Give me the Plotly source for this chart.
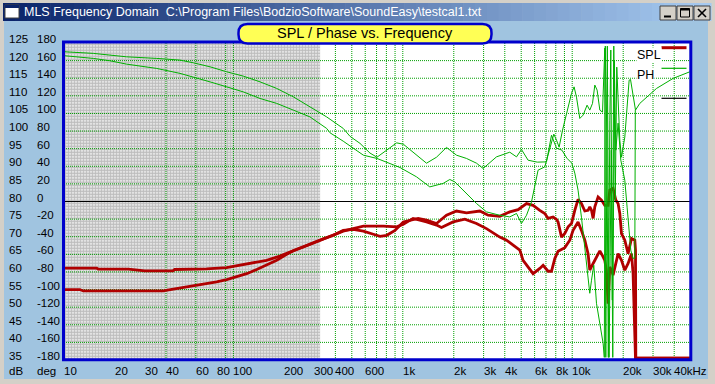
import math
import plotly.graph_objects as go

# ---------------- data ----------------
spl1_f = [10, 15.6, 15.9, 24, 30, 44, 45, 69.5, 91, 104.5, 131, 157, 188, 216, 259, 296, 339, 389, 445, 510,
          585, 670, 734, 804, 899, 1007, 1150, 1231, 1380, 1581, 1811, 2075, 2377, 2848, 3188, 3737, 4281, 4793,
          5373, 5877, 6437, 6890, 7206, 7713, 8079, 8256, 8648, 9043, 9459, 9904, 10360, 10830, 11340, 11870,
          12410, 12700, 13000, 13290, 13600, 14220, 14890, 15570, 16290, 16670, 17430, 18090, 18660, 19100,
          19540, 20440, 21380, 22390, 23420, 23640, 23740, 50300]
spl1_db = [61.1, 61.1, 60.8, 60.8, 60.3, 60.3, 60.7, 60.85, 61.25, 61.8, 62.75, 63.3, 64.5, 65.7, 67.3, 68.4,
           69.4, 70.4, 71.8, 72.1, 71.6, 70.7, 70.1, 70.4, 71.8, 74.2, 74.9, 75.2, 74.7, 73.75, 76.1, 77.3, 76.8,
           77.3, 76.1, 75.8, 77.05, 77.7, 79.4, 78.9, 77.5, 76.6, 75.2, 75.6, 74.9, 74.2, 69.9, 70.9, 72.8, 73.75,
           77.5, 80.6, 79.4, 77.3, 77.5, 78.5, 77.5, 75.2, 78.5, 81.3, 80.4, 78.9, 78.9, 83.2, 83.7, 80.4, 79.4,
           76.6, 70.9, 69.0, 65.2, 69.5, 69.0, 66.2, 35.5, 35.5]

spl2_f = [10, 12.4, 13, 38.5, 44.2, 50.6, 58, 66.4, 79.6, 91.3, 104.5, 119.8, 137.3, 157.3, 180.2, 206.4, 225.7,
          258.6, 296.3, 339.4, 389, 445, 510, 585, 767, 920, 1007, 1150, 1380, 1581, 1692, 1811, 1981, 2323,
          2723, 3119, 3737, 4094, 4478, 4905, 5129, 5373, 5877, 6437, 6733, 7206, 7547, 7894, 8256, 9043, 9679,
          10120, 10830, 11340, 11870, 12410, 12700, 13290, 13910, 14560, 15220, 15570, 15920, 16290, 16670,
          17060, 17430, 17840, 18660, 19540, 20440, 21380, 22390, 22880, 23100, 23420, 23640, 50300]
spl2_db = [55.0, 55.0, 54.6, 54.6, 55.1, 55.6, 55.9, 56.4, 57.2, 57.8, 58.6, 59.5, 60.7, 61.9, 63.3, 65.0, 66.0,
           67.1, 68.2, 69.2, 70.4, 71.6, 72.3, 73.0, 73.0, 72.8, 73.55, 75.2, 74.2, 73.3, 72.6, 73.3, 74.2, 75.0,
           73.75, 72.3, 69.9, 69.0, 67.6, 66.2, 63.3, 61.9, 59.5, 61.0, 61.9, 60.2, 60.2, 63.8, 65.9, 66.9, 69.0,
           71.8, 74.2, 71.8, 69.0, 65.2, 60.5, 62.4, 64.3, 66.0, 64.3, 63.3, 60.5, 51.0, 61.4, 60.5, 59.1, 61.4,
           65.2, 63.3, 60.5, 62.4, 65.2, 59.5, 52.0, 41.5, 35.5, 35.5]

ph1_f = [10, 10.14, 14.9, 18.7, 23.4, 35.3, 48.4, 58, 72.7, 91.3, 114.3, 143.6, 180.2, 225.7, 283, 355, 445,
         488, 559, 640, 704, 803, 920, 1007, 1150, 1380, 1581, 1811, 2075, 2377, 2723, 2979, 3573, 4281, 4690,
         5019, 5490, 6220, 7051, 7547, 8079, 8700, 9300, 9950, 10360, 10830, 11340, 11870, 12410, 12700, 13000,
         13410, 13910, 14560, 15220, 15470, 15680, 16000, 16340, 16670, 16900, 17250, 17600, 17960, 18330,
         19100, 19540, 20440, 21090, 21680, 22090, 22880, 23640, 25060, 31450, 39410, 49460]
ph1_deg = [173.9, 170, 168.2, 166.6, 164.3, 162.5, 160.6, 157.5, 153, 147.3, 142.4, 135.9, 128.4, 118.9, 107.5,
           96.1, 83.0, 74, 66, 55, 50.3, 58.3, 66.6, 65.1, 56.0, 43.5, 50.3, 61.4, 52.6, 48.9, 43.5, 37.5, 50.7,
           56.0, 50.7, 59.1, 46.9, 44.7, 45.0, 75.3, 60.6, 58.3, 49.2, 43.5, 32.2, 12.8, -17.8, -51.9, -81.5,
           -104.2, -89.4, -72.4, -115.6, -138.3, -161, -177, 176.5, 81, -177, 92.4, 172, -112, 176.5, 1.5,
           152.6, 69.7, 50.3, 73.1, 107.2, 137.8, 138.6, 118.5, 103.8, 111.4, 128.4, 139.8, 147.3]

ph2_f = [10, 10.14, 14.9, 18.7, 23.4, 35.3, 48.4, 58, 72.7, 91.3, 114.3, 143.6, 180.2, 225.7, 283, 355, 372,
         445, 585, 704, 875, 963, 1205, 1443, 1729, 1894, 2028, 2377, 2723, 3119, 3737, 4281, 4690, 5019, 5373,
         5750, 6290, 6890, 7374, 7787, 8079, 8370, 8767, 9254, 9904, 10260, 10600, 11090, 11600, 12240, 12700,
         13180, 13600, 14030, 14560, 15100, 15570, 15790, 16120, 16510, 17010, 17360, 17720, 18090, 18660,
         19360, 20440, 21090, 21680, 22180, 22790, 23420, 23580]
ph2_deg = [166.2, 165.5, 162.5, 159.8, 156, 151.1, 145.5, 141.6, 135.9, 130.2, 124.5, 117, 111.4, 103.8, 96.1,
           83, 78, 68.5, 52.6, 48.9, 41.3, 38.6, 28, 16.6, 20.5, 25, 22.3, 9.1, -2.3, -11.8, -15.6, -17.5, -13.6,
           -25, -15.6, -0.5, 35.6, 39.3, 58.3, 76.5, 69.7, 61.7, 81, 100, 122.7, 130.2, 118.5, 94.3, 98.1, 109.4,
           103.8, 111.4, 132.2, 126.5, 103.8, 101.5, 174.2, -177, 176.5, -177, 58.3, -177, 160.6, 58.3, 89, 47,
           24.2, -6.5, -36, -55.3, -64.4, -64.4, 103.8]

x_tick_freqs = [10, 20, 30, 40, 60, 80, 100, 200, 300, 400, 600, 1000, 2000, 3000, 4000, 6000, 8000, 10000,
                20000, 30000, 40000]
x_tick_text = ["10", "20", "30", "40", "60", "80", "100", "200", "300", "400", "600", "1k", "2k", "3k", "4k",
               "6k", "8k", "10k", "20k", "30k", "40kHz"]
db_ticks = [125, 120, 115, 110, 105, 100, 95, 90, 85, 80, 75, 70, 65, 60, 55, 50, 45, 40, 35]
deg_ticks = [180, 160, 140, 120, 100, 80, 60, 40, 20, 0, -20, -40, -60, -80, -100, -120, -140, -160, -180]

title_text = "MLS Frequency Domain  C:\\Program Files\\BodzioSoftware\\SoundEasy\\testcal1.txt"
chart_title = "SPL / Phase vs. Frequency"

# ---------------- geometry / style ----------------
W, H = 715, 384
ML, MR, MT, MB = 64, 24, 43, 24
PW, PHt = W - ML - MR, H - MT - MB
XMAX_LOG = 1 + PW / 169.4

BODY = "#a0c4e0"
FRAME = "#d4d0c8"
GRID = "#00a000"
PHASE = "#00b000"
SPLC = "#b00000"
BORDER = "#0000cc"
FONT = "Liberation Sans, Arial, sans-serif"


def pxx(x):
    return (x - ML) / PW


def pxy(y):
    return (H - MB - y) / PHt


fig = go.Figure()

# grey textured low-frequency region
fig.add_trace(go.Scatter(x=[10, 325, 325, 10, 10], y=[35, 35, 125, 125, 35], mode="lines",
                         fill="toself", line=dict(width=0), fillcolor="rgba(0,0,0,0)",
                         fillpattern=dict(shape=".", size=3, solidity=0.78, fgcolor="#7c7c7c",
                                          bgcolor="#ffffff"),
                         hoverinfo="skip", showlegend=False))

# grid lines
hx, hy = [], []
for v in range(40, 125, 5):
    hx += [10, 10 ** XMAX_LOG, None]
    hy += [v, v, None]
fig.add_trace(go.Scatter(x=hx, y=hy, mode="lines", line=dict(color=GRID, width=1, dash="1px,1px"),
                         hoverinfo="skip", showlegend=False))
hidden = {20, 30, 50, 70, 80, 200, 300}
vx, vy = [], []
for dec in [10, 100, 1000, 10000]:
    for m in range(1, 10):
        f = dec * m
        if f > 40000 or f in hidden or f == 10:
            continue
        vx += [f, f, None]
        vy += [35, 125, None]
fig.add_trace(go.Scatter(x=vx, y=vy, mode="lines", line=dict(color=GRID, width=1, dash="1px,1px"),
                         hoverinfo="skip", showlegend=False))

# zero-degree reference line
fig.add_trace(go.Scatter(x=[10, 10 ** XMAX_LOG], y=[0, 0], yaxis="y2", mode="lines",
                         line=dict(color="black", width=1.2), hoverinfo="skip", showlegend=False))

# phase curves
for fx, dy in [(ph1_f, ph1_deg), (ph2_f, ph2_deg)]:
    fig.add_trace(go.Scatter(x=fx, y=dy, yaxis="y2", mode="lines", line=dict(color=PHASE, width=1),
                             showlegend=False))
# SPL curves
for fx, dy in [(spl1_f, spl1_db), (spl2_f, spl2_db)]:
    fig.add_trace(go.Scatter(x=fx, y=dy, mode="lines", line=dict(color=SPLC, width=2.8),
                             showlegend=False))

shapes = []
# window frame
shapes.append(dict(type="rect", xref="paper", yref="paper", x0=pxx(0), x1=pxx(W), y0=pxy(0), y1=pxy(H),
                   line=dict(width=0), fillcolor=FRAME, layer="below"))
shapes.append(dict(type="rect", xref="paper", yref="paper", x0=pxx(4), x1=pxx(708), y0=pxy(21), y1=pxy(379),
                   line=dict(width=0), fillcolor=BODY, layer="below"))
shapes.append(dict(type="rect", xref="paper", yref="paper", x0=0, x1=1, y0=0, y1=1,
                   line=dict(width=0), fillcolor="white", layer="below"))
# title bar gradient
c0, c1 = (10, 36, 106), (166, 202, 240)
N = 60
x_start, x_end = 3, 711
for i in range(N):
    t = i / (N - 1)
    col = "rgb(%d,%d,%d)" % tuple(round(c0[k] + (c1[k] - c0[k]) * t) for k in range(3))
    xa = x_start + (x_end - x_start) * i / N
    xb = x_start + (x_end - x_start) * (i + 1) / N + 0.6
    shapes.append(dict(type="rect", xref="paper", yref="paper", x0=pxx(xa), x1=pxx(xb), y0=pxy(3),
                       y1=pxy(21), line=dict(width=0), fillcolor=col, layer="below"))
# icon
shapes.append(dict(type="rect", xref="paper", yref="paper", x0=pxx(5), x1=pxx(19), y0=pxy(5), y1=pxy(18),
                   line=dict(width=1, color="#404040"), fillcolor="white"))
shapes.append(dict(type="rect", xref="paper", yref="paper", x0=pxx(5), x1=pxx(19), y0=pxy(5), y1=pxy(8),
                   line=dict(width=0), fillcolor="#0a246a"))
# caption buttons
for bx in [660, 677, 694]:
    shapes.append(dict(type="rect", xref="paper", yref="paper", x0=pxx(bx), x1=pxx(bx + 16), y0=pxy(6),
                       y1=pxy(20), line=dict(width=1, color="#404040"), fillcolor=FRAME))
shapes.append(dict(type="line", xref="paper", yref="paper", x0=pxx(664), x1=pxx(671), y0=pxy(16.5),
                   y1=pxy(16.5), line=dict(width=2, color="black")))
shapes.append(dict(type="rect", xref="paper", yref="paper", x0=pxx(680.5), x1=pxx(689.5), y0=pxy(8.5),
                   y1=pxy(17), line=dict(width=1, color="black")))
shapes.append(dict(type="line", xref="paper", yref="paper", x0=pxx(680.5), x1=pxx(689.5), y0=pxy(9.5),
                   y1=pxy(9.5), line=dict(width=2, color="black")))
shapes.append(dict(type="line", xref="paper", yref="paper", x0=pxx(698), x1=pxx(706), y0=pxy(9),
                   y1=pxy(17), line=dict(width=1.6, color="black")))
shapes.append(dict(type="line", xref="paper", yref="paper", x0=pxx(698), x1=pxx(706), y0=pxy(17),
                   y1=pxy(9), line=dict(width=1.6, color="black")))
# plot border
shapes.append(dict(type="rect", xref="paper", yref="paper", x0=pxx(63.5), x1=pxx(690.8), y0=pxy(359.8),
                   y1=pxy(42), line=dict(width=3, color=BORDER), layer="above"))


# title pill (rounded rect)
def rr(x0, y0, x1, y1, r):
    P = lambda x, y: "%.5f,%.5f" % (pxx(x), pxy(y))
    return ("M" + P(x0 + r, y0) + " L" + P(x1 - r, y0) + " Q" + P(x1, y0) + " " + P(x1, y0 + r) +
            " L" + P(x1, y1 - r) + " Q" + P(x1, y1) + " " + P(x1 - r, y1) + " L" + P(x0 + r, y1) +
            " Q" + P(x0, y1) + " " + P(x0, y1 - r) + " L" + P(x0, y0 + r) + " Q" + P(x0, y0) + " " +
            P(x0 + r, y0) + " Z")


shapes.append(dict(type="path", xref="paper", yref="paper", path=rr(238.5, 24, 491.5, 43.5, 9),
                   fillcolor="#ffff55", line=dict(color=BORDER, width=2.5), layer="above"))

# legend samples
for yy, col, wd in [(47.7, SPLC, 3), (68.3, PHASE, 1.2), (98.3, "black", 1.2)]:
    shapes.append(dict(type="line", xref="paper", yref="paper", x0=pxx(661.5), x1=pxx(686.5), y0=pxy(yy),
                       y1=pxy(yy), line=dict(color=col, width=wd), layer="above"))

ann = []
lab_font = dict(family=FONT, size=11.5, color="black")
for v in db_ticks:
    ann.append(dict(x=pxx(7), xref="paper", y=v, yref="y", xanchor="left", yanchor="middle", yshift=4,
                    text=str(v), showarrow=False, font=lab_font))
for i, v in enumerate(deg_ticks):
    ann.append(dict(x=pxx(35), xref="paper", y=db_ticks[i], yref="y", xanchor="left", yanchor="middle",
                    yshift=4, text=str(v), showarrow=False, font=lab_font))
ann.append(dict(x=pxx(7), xref="paper", y=pxy(371), yref="paper", xanchor="left", yanchor="middle",
                text="dB", showarrow=False, font=lab_font))
ann.append(dict(x=pxx(35), xref="paper", y=pxy(371), yref="paper", xanchor="left", yanchor="middle",
                text="deg", showarrow=False, font=lab_font))
for f, t in zip(x_tick_freqs, x_tick_text):
    ann.append(dict(x=math.log10(f), xref="x", y=pxy(371), yref="paper", xanchor="left", yanchor="middle",
                    xshift=-2, text=t, showarrow=False, font=lab_font))
ann.append(dict(x=pxx(22), xref="paper", y=pxy(12.5), yref="paper", xanchor="left", yanchor="middle",
                text=title_text, showarrow=False, font=dict(family=FONT, size=12.5, color="white")))
ann.append(dict(x=pxx(365), xref="paper", y=pxy(33.5), yref="paper", xanchor="center", yanchor="middle",
                text=chart_title, showarrow=False, font=dict(family=FONT, size=14.5, color="black")))
ann.append(dict(x=pxx(636), xref="paper", y=pxy(54.5), yref="paper", xanchor="left", yanchor="middle",
                text="SPL", showarrow=False, bgcolor="white", borderpad=0,
                font=dict(family=FONT, size=12.5, color="black")))
ann.append(dict(x=pxx(636), xref="paper", y=pxy(74.5), yref="paper", xanchor="left", yanchor="middle",
                text="PH", showarrow=False, bgcolor="white", borderpad=0,
                font=dict(family=FONT, size=12.5, color="black")))

fig.update_layout(
    width=W, height=H, margin=dict(l=ML, r=MR, t=MT, b=MB, pad=0),
    paper_bgcolor=BODY, plot_bgcolor="white", showlegend=False,
    xaxis=dict(type="log", range=[1, XMAX_LOG], showgrid=False, zeroline=False, showticklabels=False,
               ticks="", showline=False, fixedrange=True),
    yaxis=dict(range=[35, 125], showgrid=False, zeroline=False, showticklabels=False, ticks="",
               showline=False, fixedrange=True),
    yaxis2=dict(range=[-180, 180], overlaying="y", showgrid=False, zeroline=False, showticklabels=False,
                ticks="", showline=False, fixedrange=True),
    shapes=shapes, annotations=ann,
)

fig.write_html("out.html", config={"displayModeBar": False, "staticPlot": True},
               post_script="document.body.style.margin='0';document.body.style.padding='0';"
                           "document.body.style.overflow='hidden';")
